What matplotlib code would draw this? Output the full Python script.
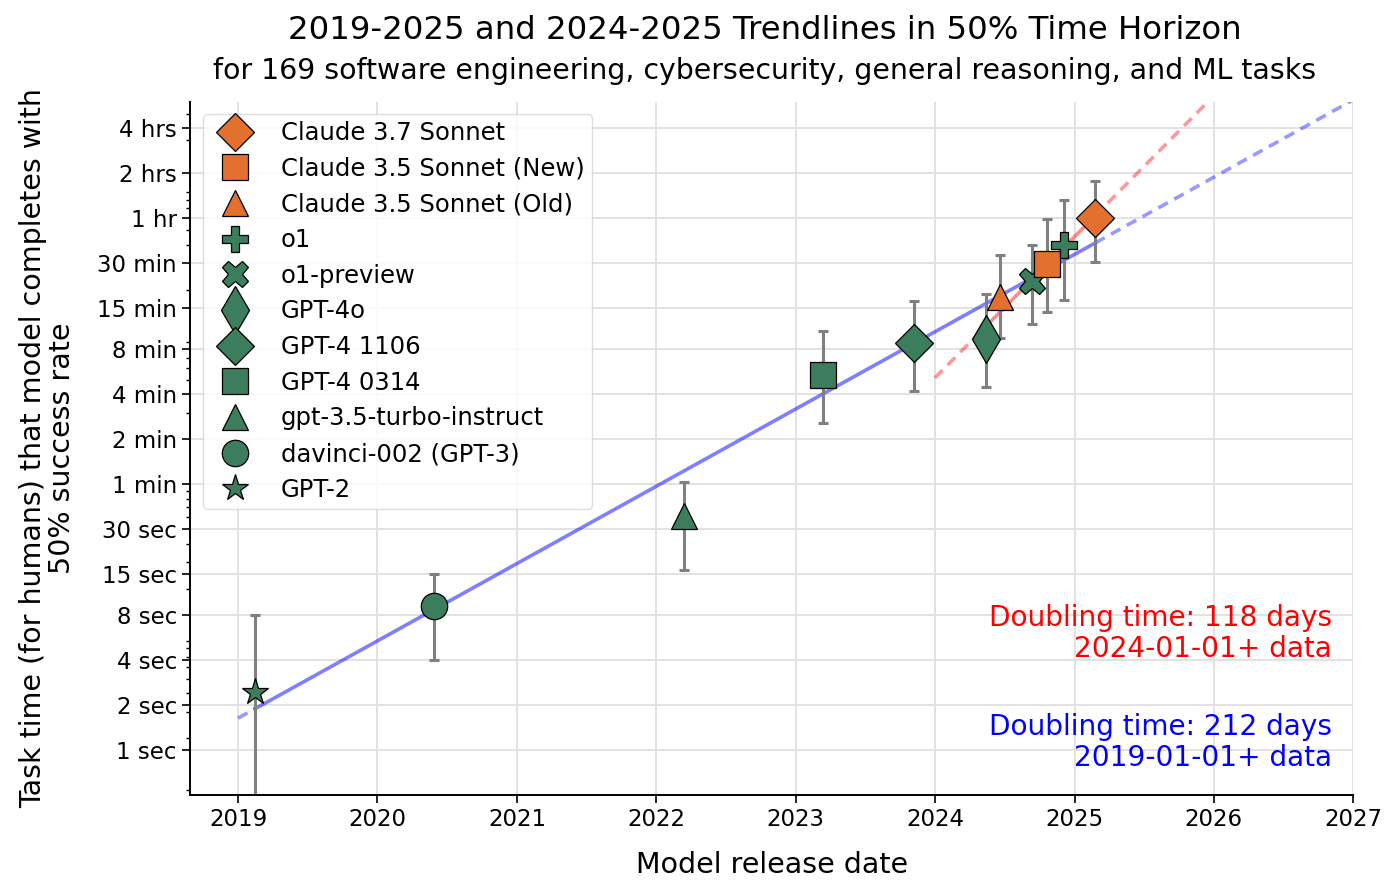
import datetime as dt

import numpy as np
import matplotlib
matplotlib.use("Agg")
import matplotlib.pyplot as plt
import matplotlib.dates as mdates

plt.rcParams["font.family"] = ["DejaVu Sans"]

# ---- data (task time in minutes) ----
models = ["GPT-2", "davinci-002 (GPT-3)", "gpt-3.5-turbo-instruct", "GPT-4 0314",
          "GPT-4 1106", "GPT-4o", "Claude 3.5 Sonnet (Old)", "o1-preview",
          "Claude 3.5 Sonnet (New)", "o1", "Claude 3.7 Sonnet"]
release = ["2019-02-14", "2020-05-28", "2022-03-15", "2023-03-14", "2023-11-06",
           "2024-05-13", "2024-06-20", "2024-09-12", "2024-10-22", "2024-12-05",
           "2025-02-24"]
horizon = [0.041, 0.153, 0.61, 5.4, 8.8, 9.3, 18.0, 22.8, 29.6, 39.7, 60.0]
ci_low = [0.0015, 0.0666, 0.266, 2.56, 4.2, 4.5, 9.5, 11.7, 14.1, 17.0, 30.5]
ci_high = [0.1333, 0.25, 1.03, 10.6, 16.8, 18.6, 34.0, 39.7, 59.0, 80.0, 106.0]
markers = ["*", "o", "^", "s", "D", "d", "^", "X", "s", "P", "D"]
is_claude = [False] * 6 + [True, False, True, False, True]
legend_order = ["Claude 3.7 Sonnet", "Claude 3.5 Sonnet (New)", "Claude 3.5 Sonnet (Old)",
                "o1", "o1-preview", "GPT-4o", "GPT-4 1106", "GPT-4 0314",
                "gpt-3.5-turbo-instruct", "davinci-002 (GPT-3)", "GPT-2"]

tick_vals = [1/60, 2/60, 4/60, 8/60, 15/60, 0.5, 1, 2, 4, 8, 15, 30, 60, 120, 240]
tick_labels = ["1 sec", "2 sec", "4 sec", "8 sec", "15 sec", "30 sec", "1 min",
               "2 min", "4 min", "8 min", "15 min", "30 min", "1 hr", "2 hrs", "4 hrs"]

ORANGE = "#e3702f"
GREEN = "#3b7d5d"

dates = np.array([mdates.datestr2num(d) for d in release])
h = np.array(horizon)

fig = plt.figure(figsize=(13.95, 8.94), dpi=100)
ax = fig.add_axes([0.1362, 0.1107, 0.8338, 0.7752])


def years(d):
    return (d - mdates.date2num(dt.datetime(2019, 1, 1))) / 365.25


def trend(mask, start, color, a_solid, a_dash):
    slope, icpt = np.polyfit(years(dates[mask]), np.log2(h[mask]), 1)
    f = lambda x: 2 ** (slope * years(x) + icpt)
    x0 = mdates.date2num(dt.datetime(*start))
    x1 = mdates.date2num(dt.datetime(2027, 1, 1))
    d0, d1 = dates[mask].min(), dates[mask].max()
    for a, b in [(x0, d0), (d1, x1)]:
        xd = np.linspace(a, b, 100)
        ax.plot(xd, f(xd), ls=(0, (3, 2)), lw=2.6, color=color,
                alpha=a_dash, zorder=1)
    xs = np.linspace(d0, d1, 200)
    ax.plot(xs, f(xs), lw=2.6, color=color, alpha=a_solid, zorder=1)


trend(dates >= mdates.date2num(dt.datetime(2019, 1, 1)), (2019, 1, 1), "blue", 0.5, 0.4)
trend(dates >= mdates.date2num(dt.datetime(2024, 1, 1)), (2024, 1, 1), "red", 0.45, 0.4)

handles = {}
for i, name in enumerate(models):
    ax.errorbar(dates[i], h[i],
                yerr=[[h[i] - ci_low[i]], [ci_high[i] - h[i]]],
                fmt="none", ecolor="gray", elinewidth=2.2, capsize=3.5,
                capthick=2.2, zorder=2)
    ms = {"*": 20, "d": 24}.get(markers[i], 19)
    ln, = ax.plot(dates[i], h[i], ls="none", marker=markers[i], ms=ms,
                  mfc=ORANGE if is_claude[i] else GREEN, mec="black", mew=0.9,
                  zorder=3 + i * 0.01, label=name)
    handles[name] = ln

ax.set_yscale("log")
ax.set_ylim(1 / 120, 360)
ax.set_yticks(tick_vals)
ax.set_yticklabels(tick_labels)
ax.set_xlim(mdates.date2num(dt.datetime(2018, 8, 28)),
            mdates.date2num(dt.datetime(2027, 1, 1)))
ax.xaxis.set_major_locator(mdates.YearLocator())
ax.xaxis.set_major_formatter(mdates.DateFormatter("%Y"))

ax.grid(True, which="major", color="#e2e2e2", lw=1.4)
ax.set_axisbelow(True)
for s in ["top", "right"]:
    ax.spines[s].set_visible(False)
for s in ["left", "bottom"]:
    ax.spines[s].set_linewidth(1.4)
ax.tick_params(labelsize=16.5, width=1.2, length=6)
ax.tick_params(which="minor", width=1, length=3)

ax.set_xlabel("Model release date", fontsize=20.5, labelpad=14)
ax.set_ylabel("Task time (for humans) that model completes with\n50% success rate",
              fontsize=20.5, labelpad=15, linespacing=1.05)

leg = ax.legend(handles=[handles[n] for n in legend_order], loc="upper left",
                fontsize=17.5, frameon=True, fancybox=True, labelspacing=0.48,
                borderpad=0.3, handletextpad=0.9, borderaxespad=0,
                bbox_to_anchor=(0.0112, 0.983))
leg.get_frame().set_edgecolor("#d5d5d5")

ax.text(0.982, 0.233, "Doubling time: 118 days\n2024-01-01+ data", color="red",
        fontsize=20.2, ha="right", va="center", transform=ax.transAxes,
        linespacing=1.15)
ax.text(0.982, 0.076, "Doubling time: 212 days\n2019-01-01+ data", color="blue",
        fontsize=20.2, ha="right", va="center", transform=ax.transAxes,
        linespacing=1.15)

fig.text(0.548, 0.966, "2019-2025 and 2024-2025 Trendlines in 50% Time Horizon",
         fontsize=23.3, ha="center", va="center")
fig.text(0.548, 0.921,
         "for 169 software engineering, cybersecurity, general reasoning, and ML tasks",
         fontsize=20.4, ha="center", va="center")

fig.savefig("out.png", dpi=100)
